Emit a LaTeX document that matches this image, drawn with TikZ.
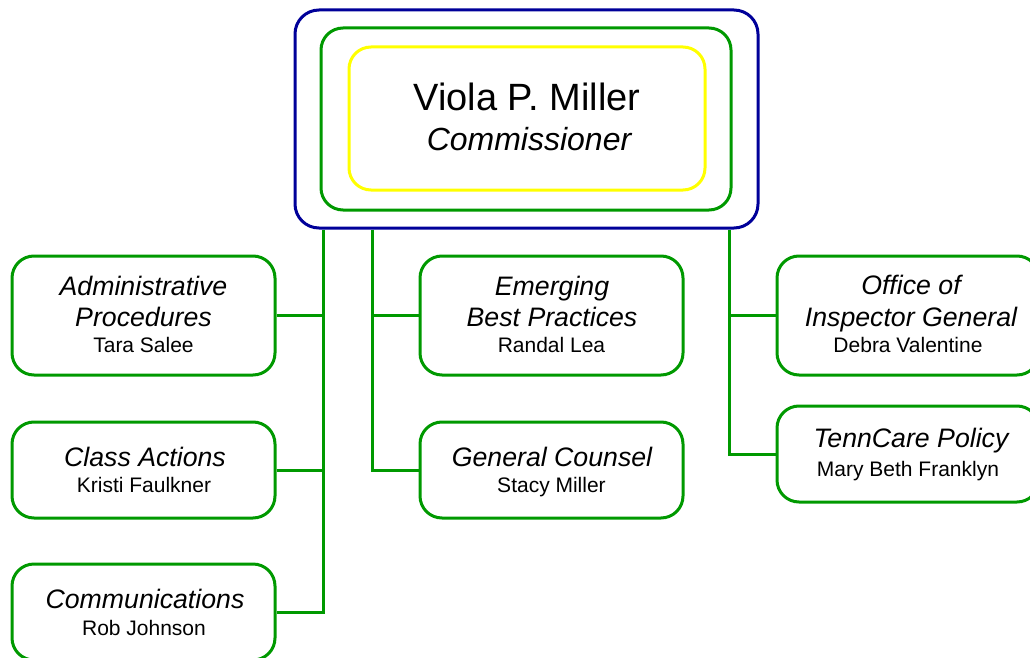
\documentclass[tikz,border=0pt]{standalone}
\usepackage{fontspec}
\setmainfont{Liberation Sans}
\definecolor{lgreen}{RGB}{0,153,0}
\definecolor{lblue}{RGB}{0,0,153}
\definecolor{lyellow}{RGB}{255,255,0}
\tikzset{
  frame/.style={draw=lgreen, line width=3pt, rounded corners=22pt, fill=white},
  conn/.style={draw=lgreen, line width=3pt},
  ttl/.style={anchor=base, inner sep=0pt, font=\fontsize{26.7}{30}\selectfont\itshape},
  nm/.style={anchor=base, inner sep=0pt, font=\fontsize{21}{25}\selectfont},
}
\begin{document}
\begin{tikzpicture}[x=1pt,y=-1pt]
\useasboundingbox (0,0) rectangle (1030,658);
\clip (0,0) rectangle (1030,658);
% top boxes
\node[draw=lblue, line width=3pt, rounded corners=24pt, minimum width=463pt, minimum height=218pt, inner sep=0pt] (top) at (526.5,119) {};
\node[frame, minimum width=410pt, minimum height=182pt, inner sep=0pt] (topg) at (526,119) {};
\node[draw=lyellow, line width=3pt, rounded corners=22pt, minimum width=356pt, minimum height=143pt, inner sep=0pt] (topy) at (527,118.5) {};
\node[anchor=base, inner sep=0pt, font=\fontsize{38}{44}\selectfont] (vname) at (527,111) {Viola P. Miller};
\node[anchor=base, inner sep=0pt, font=\fontsize{32}{38}\selectfont\itshape] (vrole) at (529,150) {Commissioner};
% sub boxes
\node[frame, minimum width=263pt, minimum height=119pt, inner sep=0pt] (adm) at (143.5,315.5) {};
\node[frame, minimum width=263pt, minimum height=96pt, inner sep=0pt] (cls) at (143.5,470) {};
\node[frame, minimum width=263pt, minimum height=96pt, inner sep=0pt] (com) at (143.5,612) {};
\node[frame, minimum width=263pt, minimum height=119pt, inner sep=0pt] (emb) at (551.5,315.5) {};
\node[frame, minimum width=263pt, minimum height=96pt, inner sep=0pt] (gc) at (551.5,470) {};
\node[frame, minimum width=262pt, minimum height=119pt, inner sep=0pt] (oig) at (908,315.5) {};
\node[frame, minimum width=262pt, minimum height=96pt, inner sep=0pt] (tc) at (908,454) {};
% texts
\node[ttl] (adm1) at (143.5,295) {Administrative};
\node[ttl] (adm2) at (143.5,326) {Procedures};
\node[nm]  (adm3) at (143.5,352) {Tara Salee};
\node[ttl] (cls1) at (145,466) {Class Actions};
\node[nm]  (cls2) at (144,492) {Kristi Faulkner};
\node[ttl] (com1) at (145,608) {Communications};
\node[nm]  (com2) at (144,635) {Rob Johnson};
\node[ttl] (emb1) at (552,295) {Emerging};
\node[ttl] (emb2) at (552,326) {Best Practices};
\node[nm]  (emb3) at (551.5,352.5) {Randal Lea};
\node[ttl] (gc1) at (552,466) {General Counsel};
\node[nm]  (gc2) at (551.5,492) {Stacy Miller};
\node[ttl] (oig1) at (911,294) {Office of};
\node[ttl] (oig2) at (911,326) {Inspector General};
\node[nm]  (oig3) at (908,352.5) {Debra Valentine};
\node[ttl] (tc1) at (911,447) {TennCare Policy};
\node[nm]  (tc2) at (908,476) {Mary Beth Franklyn};
% connectors
\coordinate (jL) at (323,0);
\coordinate (jM) at (372,0);
\coordinate (jR) at (729,0);
\draw[conn] (top.south -| jL) |- (com.east);
\draw[conn] (jL |- adm.east) -- (adm.east);
\draw[conn] (jL |- cls.east) -- (cls.east);
\draw[conn] (top.south -| jM) |- (gc.west);
\draw[conn] (jM |- emb.west) -- (emb.west);
\draw[conn] (top.south -| jR) |- (tc.west);
\draw[conn] (jR |- oig.west) -- (oig.west);
\end{tikzpicture}
\end{document}
